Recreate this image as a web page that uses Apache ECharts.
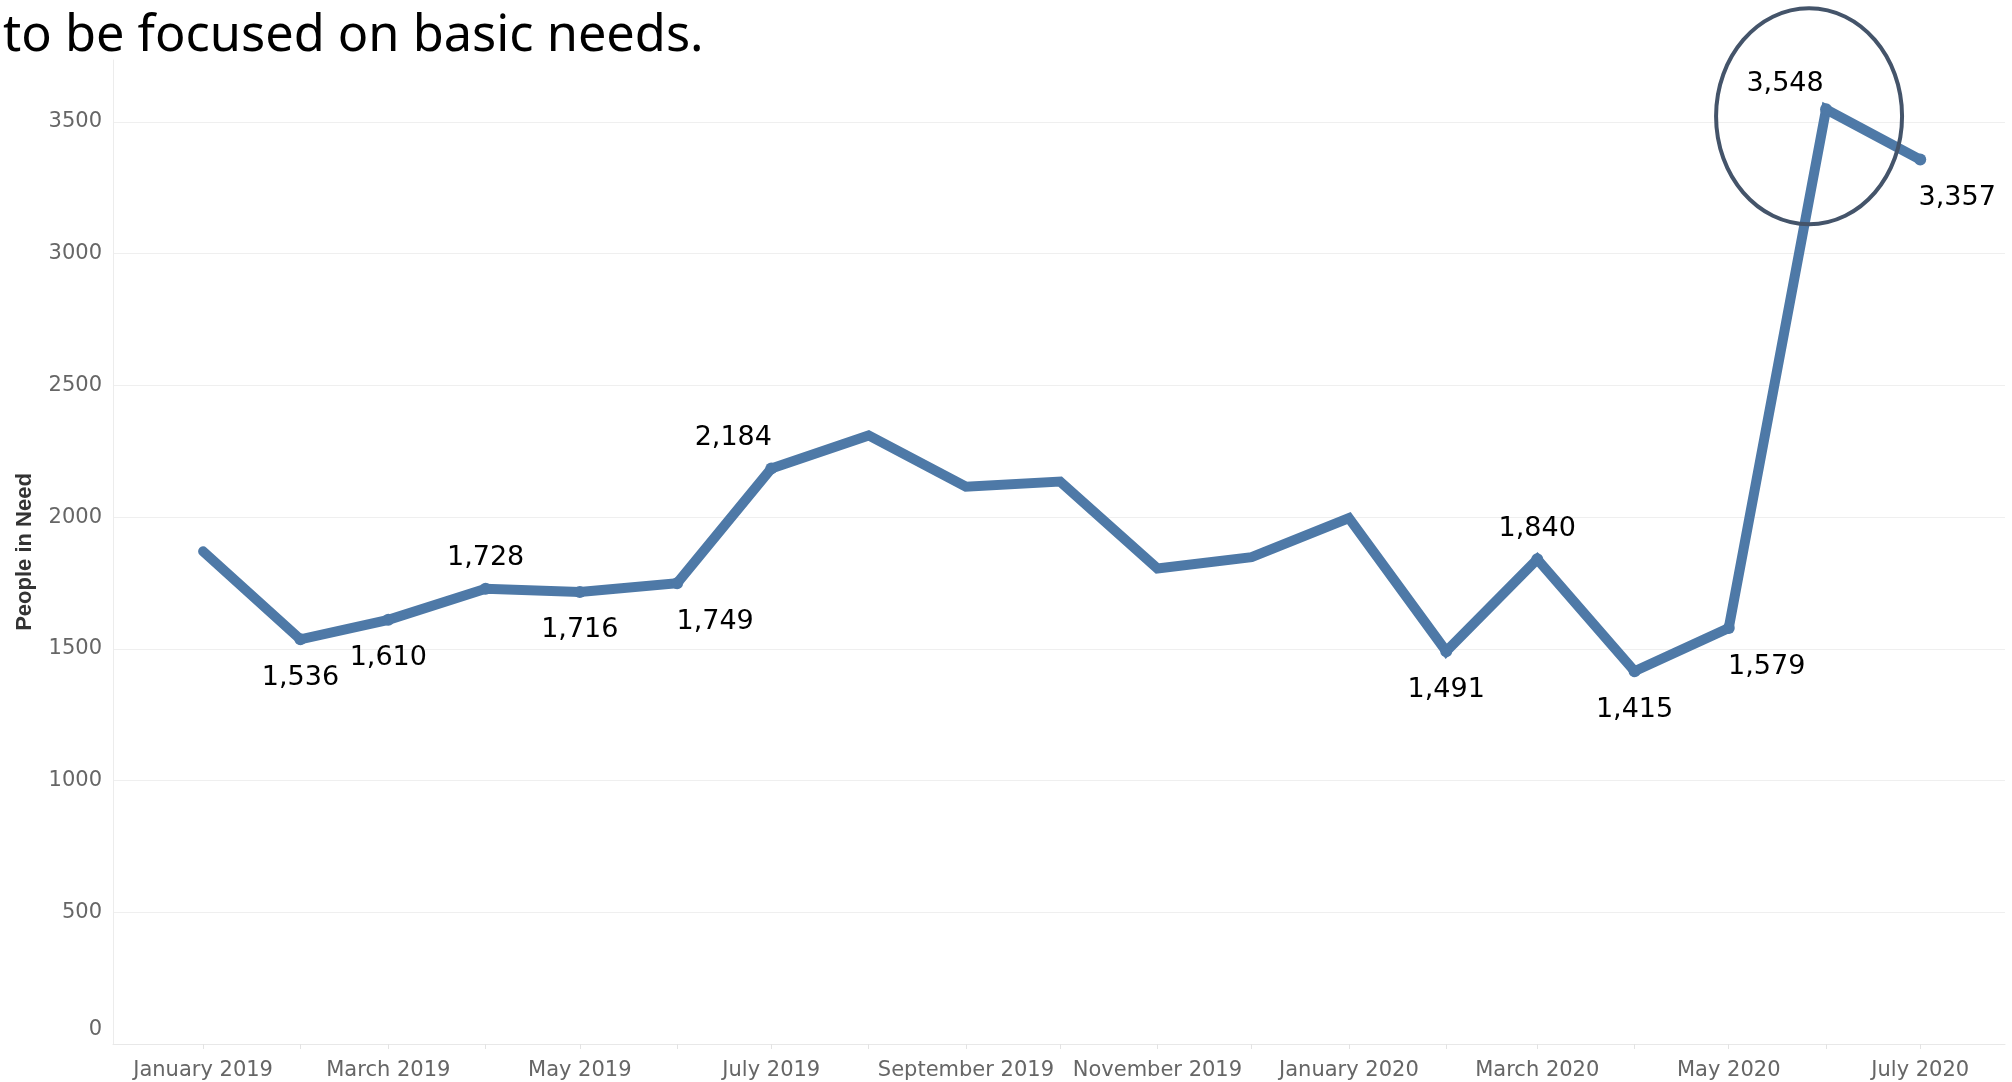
<!DOCTYPE html>
<html>
<head>
<meta charset="utf-8">
<title>People in Need</title>
<script src="https://cdn.jsdelivr.net/npm/echarts@6/dist/echarts.min.js"></script>
<style>
  html, body { margin: 0; padding: 0; background: #fff; }
  #chart { width: 2012px; height: 1082px; }
</style>
</head>
<body>
<div id="chart"></div>
<script>
// months shown on the x axis (one point per month, first day of month)
const months = [
  "January 2019", "February 2019", "March 2019", "April 2019", "May 2019",
  "June 2019", "July 2019", "August 2019", "September 2019", "October 2019",
  "November 2019", "December 2019", "January 2020", "February 2020",
  "March 2020", "April 2020", "May 2020", "June 2020", "July 2020"
];

// people in need per month
const peopleInNeed = [
  1870, 1536, 1610, 1728, 1716, 1749, 2184, 2310, 2115, 2135,
  1805, 1848, 1996, 1491, 1840, 1415, 1579, 3548, 3357
];

const yTicks = [0, 500, 1000, 1500, 2000, 2500, 3000, 3500];

// which points carry a value label: side, dx, dy
const labelSpots = {
  1: ["bottom", 0, 0],
  2: ["bottom", 0, 0],
  3: ["top", 0, 0],
  4: ["bottom", 0, 0],
  5: ["bottom", 38, 0],
  6: ["top", -38, 0],
  13: ["bottom", 0, 0],
  14: ["top", 0, 0],
  15: ["bottom", 0, 0],
  16: ["bottom", 38, 0],
  17: ["top", -41, 5],
  18: ["bottom", 37, 0]
};

const lineColor = "#4e79a7";
const gridColor = "#efefef";
const DAY = 86400000;

// continuous date axis like tableau: x = days since 1 Jan 2019
const monthDays = months.map((m, i) => Math.round((Date.UTC(2019, i, 1) - Date.UTC(2019, 0, 1)) / DAY));

const seriesData = peopleInNeed.map((v, i) => {
  const spot = labelSpots[i];
  if (!spot) {
    return { value: [monthDays[i], v], symbol: "none", label: { show: false } };
  }
  return {
    value: [monthDays[i], v],
    label: {
      show: true,
      position: spot[0],
      distance: spot[0] === "top" ? 11 : 19,
      offset: [spot[1], spot[2]]
    }
  };
});

const chart = echarts.init(document.getElementById("chart"));

chart.setOption({
  animation: false,
  title: {
    text: "to be focused on basic needs.",
    left: 3,
    top: 12,
    padding: 0,
    textStyle: {
      fontFamily: "Noto Sans",
      fontSize: 50.5,
      lineHeight: 50,
      fontWeight: "normal",
      color: "#000"
    }
  },
  grid: { left: 113, right: 7, top: 60, bottom: 38 },
  xAxis: {
    type: "value",
    min: -28.7,
    max: monthDays[18] + 27,
    splitLine: { show: false },
    axisLine: { show: true, onZero: false, lineStyle: { color: "#e8e8e8", width: 1 } },
    axisTick: {
      show: true,
      length: 5,
      customValues: monthDays,
      lineStyle: { color: "#e3e3e3" }
    },
    axisLabel: {
      customValues: monthDays.filter((d, i) => i % 2 === 0),
      formatter: v => months[monthDays.indexOf(v)] || "",
      margin: 16,
      fontFamily: "DejaVu Sans",
      fontSize: 21,
      color: "#666"
    }
  },
  yAxis: {
    type: "value",
    min: 0,
    max: 3735,
    interval: 500,
    name: "People in Need",
    nameLocation: "middle",
    nameGap: 77,
    nameTextStyle: {
      fontFamily: "Liberation Sans",
      fontWeight: "bold",
      fontSize: 22,
      color: "#333"
    },
    axisLine: { show: true, onZero: false, lineStyle: { color: "#ececec", width: 1 } },
    axisTick: { show: false },
    splitLine: { show: true, showMaxLine: false, lineStyle: { color: gridColor, width: 1 } },
    axisLabel: {
      showMaxLabel: false,
      margin: 11,
      fontFamily: "DejaVu Sans",
      fontSize: 21,
      color: "#666",
      formatter: v => (yTicks.indexOf(v) < 0 ? "" : v === 0 ? "{lift|0}" : String(v)),
      rich: {
        lift: {
          fontFamily: "DejaVu Sans",
          fontSize: 21,
          color: "#666",
          padding: [0, 0, 28, 0]
        }
      }
    }
  },
  series: [
    {
      type: "line",
      data: seriesData,
      symbol: "circle",
      symbolSize: 12,
      showAllSymbol: true,
      itemStyle: { color: lineColor },
      lineStyle: { color: lineColor, width: 10, cap: "round", join: "miter" },
      label: {
        fontFamily: "DejaVu Sans",
        fontSize: 27,
        color: "#000",
        formatter: p => p.value[1].toLocaleString("en-US")
      },
      emphasis: { disabled: true }
    }
  ]
});

// ring drawn round the June 2020 peak
const peak = chart.convertToPixel({ seriesIndex: 0 }, [monthDays[17], peopleInNeed[17]]);
chart.setOption({
  graphic: [
    {
      type: "ellipse",
      z: 100,
      shape: { cx: peak[0] - 17, cy: peak[1] + 7, rx: 93, ry: 108 },
      style: { fill: "none", stroke: "#44546a", lineWidth: 4 }
    }
  ]
});
</script>
</body>
</html>
